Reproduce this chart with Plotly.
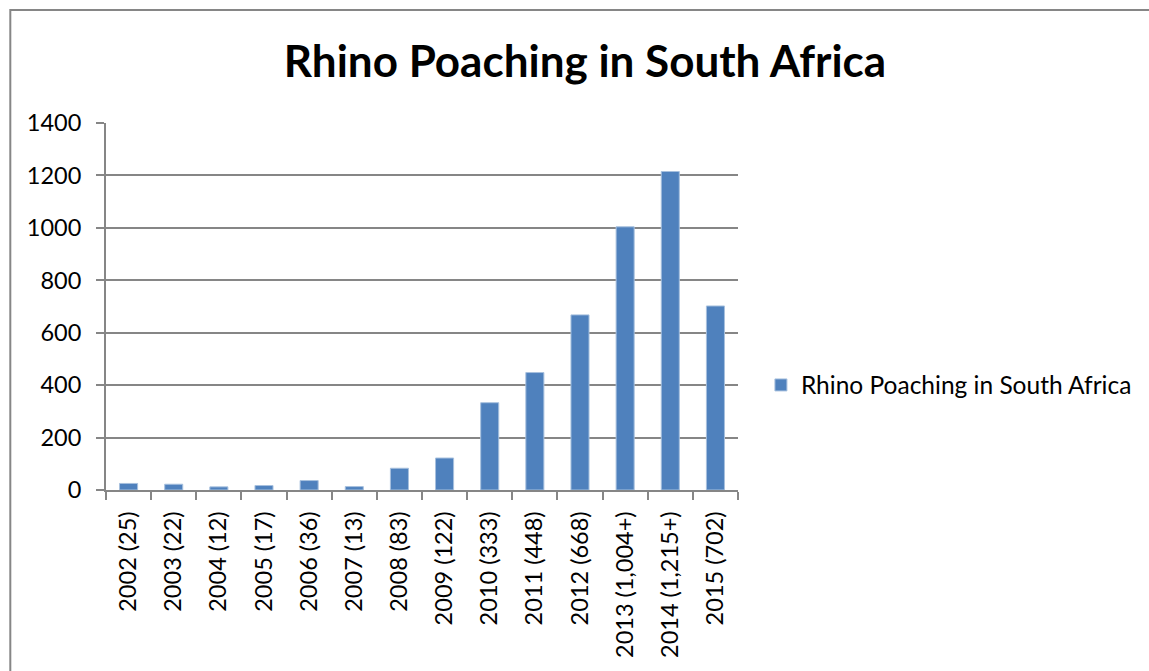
import plotly.graph_objects as go

categories = ["2002 (25)", "2003 (22)", "2004 (12)", "2005 (17)", "2006 (36)", "2007 (13)",
              "2008 (83)", "2009 (122)", "2010 (333)", "2011 (448)", "2012 (668)",
              "2013 (1,004+)", "2014 (1,215+)", "2015 (702)"]
values = [25, 22, 12, 17, 36, 13, 83, 122, 333, 448, 668, 1004, 1215, 702]
series_name = "Rhino Poaching in South Africa"
y_ticks = [0, 200, 400, 600, 800, 1000, 1200, 1400]

W, H = 1149, 671
L, R, T, B = 106, 740, 123, 490
FONT = "Lato"
GRAY = "#868686"

fig = go.Figure()
fig.add_trace(go.Bar(
    x=categories, y=values, name=series_name,
    marker=dict(color="#4F81BD", line=dict(color="#A7C0DE", width=1)),
    showlegend=True,
))

def px_x(p):
    return (p - L) / (R - L)

def px_y(p):
    return (B - p) / (B - T)

fig.update_layout(
    width=W, height=H,
    margin=dict(l=L, r=W - R, t=T, b=H - B),
    paper_bgcolor="white", plot_bgcolor="white",
    bargap=0.6,
    font=dict(family=FONT, size=23, color="black"),
    title=dict(text="<b>Rhino Poaching in South Africa</b>", x=585 / W, xref="container",
               y=1 - 62 / H, yref="container", xanchor="center", yanchor="middle",
               font=dict(family=FONT, size=44, color="black")),
    legend=dict(x=px_x(763), y=px_y(385), xanchor="left", yanchor="middle",
                font=dict(family=FONT, size=24.5, color="black"), bgcolor="rgba(0,0,0,0)"),
    xaxis=dict(showgrid=False, showline=True, linecolor=GRAY, linewidth=2,
               ticks="outside", ticklen=8, tickcolor=GRAY, tickwidth=2,
               tickson="boundaries", tickangle=-90, ticklabelstandoff=10,
               tickfont=dict(family=FONT, size=23.5, color="black")),
    yaxis=dict(range=[0, 1400], tickvals=y_ticks, showgrid=True, gridcolor=GRAY, gridwidth=2,
               showline=True, linecolor=GRAY, linewidth=2, zeroline=False,
               ticks="outside", ticklen=8, tickcolor=GRAY, tickwidth=2,
               ticklabelstandoff=10,
               tickfont=dict(family=FONT, size=23.5, color="black")),
)

fig.add_shape(type="rect", xref="paper", yref="paper",
              x0=px_x(10), x1=px_x(1200), y0=px_y(720), y1=px_y(10),
              line=dict(color=GRAY, width=2), fillcolor="rgba(0,0,0,0)", layer="below")

fig.write_html("out.html")
